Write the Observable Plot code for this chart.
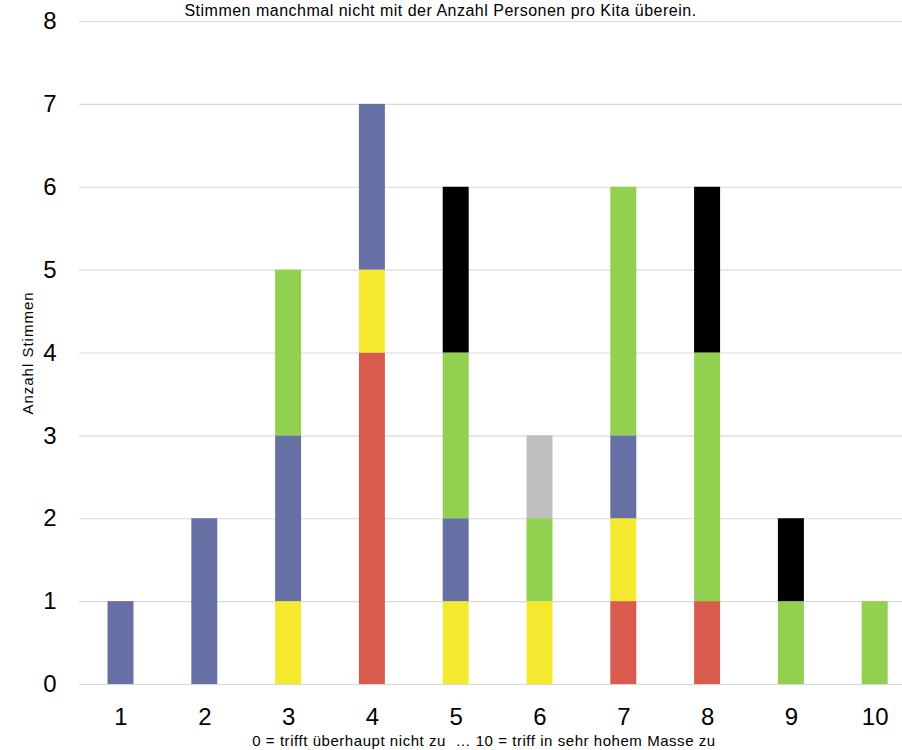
<!DOCTYPE html>
<html><head><meta charset="utf-8">
<script src="https://cdn.jsdelivr.net/npm/d3@7"></script>
<script src="https://cdn.jsdelivr.net/npm/@observablehq/plot@0.6"></script>
<style>
body{margin:0;background:#fff;font-family:"Liberation Sans",Arial,sans-serif;}
#wrap{position:relative;width:902px;height:750px;overflow:hidden;}
#sub{position:absolute;left:0;top:3px;width:881px;text-align:center;font-size:16px;letter-spacing:0.5px;line-height:16px;color:#000;white-space:nowrap;}
#chart{position:absolute;left:0;top:0;}
#xlab{position:absolute;left:0;top:733px;width:968px;text-align:center;font-size:15px;letter-spacing:0.55px;line-height:16px;color:#000;white-space:pre;}
</style></head><body>
<div id="wrap">
<div id="chart"></div>
<div id="sub">Stimmen manchmal nicht mit der Anzahl Personen pro Kita überein.</div>
<div id="xlab">0 = trifft überhaupt nicht zu  … 10 = triff in sehr hohem Masse zu</div>
</div>
<script>
const categories = [1, 2, 3, 4, 5, 6, 7, 8, 9, 10];
const seriesNames = ["Rot", "Gelb", "Blau", "Grün", "Grau", "Schwarz"];
const seriesColors = ["#D85B4E", "#F4E92E", "#6670A4", "#92D050", "#BFBFBF", "#000000"];
const rot     = [0, 0, 0, 4, 0, 0, 1, 1, 0, 0];
const gelb    = [0, 0, 1, 1, 1, 1, 1, 0, 0, 0];
const blau    = [1, 2, 2, 2, 1, 0, 1, 0, 0, 0];
const gruen   = [0, 0, 2, 0, 2, 1, 3, 3, 1, 1];
const grau    = [0, 0, 0, 0, 0, 1, 0, 0, 0, 0];
const schwarz = [0, 0, 0, 0, 2, 0, 0, 2, 1, 0];
const yTicks = [0, 1, 2, 3, 4, 5, 6, 7, 8];
const yLabel = "Anzahl Stimmen";

const seriesValues = [rot, gelb, blau, gruen, grau, schwarz];
const data = [];
seriesNames.forEach((s, i) => {
  categories.forEach((c, j) => {
    if (seriesValues[i][j] > 0) data.push({cat: c, series: s, value: seriesValues[i][j]});
  });
});

const chart = Plot.plot({
  width: 902,
  height: 750,
  marginLeft: 79,
  marginRight: 0,
  marginTop: 21,
  marginBottom: 66,
  style: {fontFamily: "Liberation Sans, Arial, sans-serif", color: "#000", background: "transparent", overflow: "visible"},
  x: {type: "band", domain: categories, range: [78.6, 916.6], paddingInner: 0.69, paddingOuter: 0.345, align: 0.5, round: false},
  y: {domain: [0, 8], range: [684, 21]},
  color: {domain: seriesNames, range: seriesColors},
  marks: [
    Plot.ruleY(yTicks, {y: d => d, stroke: "#D9D9D9", strokeWidth: 1.2}),
    Plot.barY(data, Plot.stackY({x: "cat", y: "value", fill: "series", order: seriesNames})),
    Plot.axisY(yTicks, {tickSize: 0, tickPadding: 23, fontSize: 24, label: null, tickFormat: d => String(d)}),
    Plot.axisX({tickSize: 0, tickPadding: 23, fontSize: 24, label: null}),
    Plot.text([yLabel], {frameAnchor: "left", dx: -51, rotate: -90, fontSize: 15, textAnchor: "middle", fill: "#000", style: {letterSpacing: "1px"}})
  ]
});
chart.querySelectorAll("text").forEach(t => { if (t.textContent === yLabel) t.style.letterSpacing = "1px"; });
document.getElementById("chart").appendChild(chart);
</script>
</body></html>
